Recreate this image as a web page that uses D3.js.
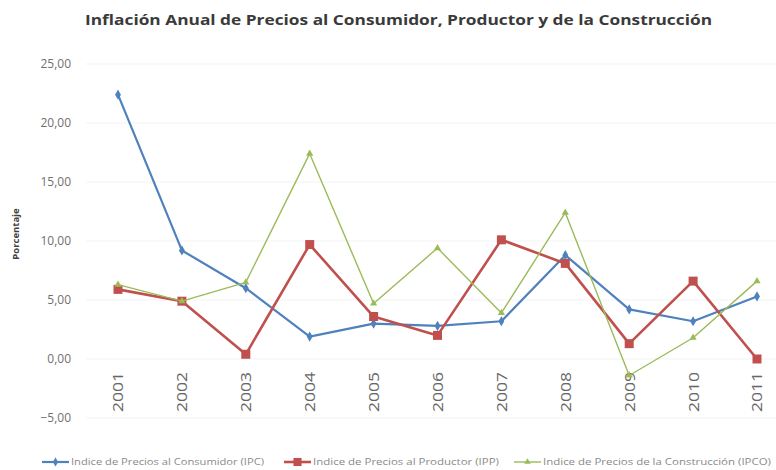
<!DOCTYPE html>
<html>
<head>
<meta charset="utf-8">
<script src="https://cdn.jsdelivr.net/npm/d3@7"></script>
<style>
  html, body { margin: 0; padding: 0; background: #fff; }
  svg { display: block; }
</style>
</head>
<body>
<svg id="chart" width="776" height="470"></svg>
<script>
// Annual inflation rates (%) by year
const years = ["2001","2002","2003","2004","2005","2006","2007","2008","2009","2010","2011"];
const ipc  = [22.4, 9.2, 6.0, 1.9, 3.0, 2.8, 3.2, 8.8, 4.2, 3.2, 5.3];
const ipp  = [5.9, 4.9, 0.4, 9.7, 3.6, 2.0, 10.1, 8.1, 1.3, 6.6, 0.0];
const ipco = [6.3, 4.9, 6.5, 17.4, 4.7, 9.4, 3.9, 12.4, -1.4, 1.8, 6.6];
const yTicks = [-5, 0, 5, 10, 15, 20, 25];

const seriesNames = [
  "Indice de Precios al Consumidor (IPC)",
  "Indice de Precios al Productor (IPP)",
  "Indice de Precios de la Construcción (IPCO)"
];

const series = [
  { name: seriesNames[0], values: ipc,  color: "#4F81BD", width: 2.2, marker: "diamond", size: 5 },
  { name: seriesNames[1], values: ipp,  color: "#C0504D", width: 2.6, marker: "square",  size: 9 },
  { name: seriesNames[2], values: ipco, color: "#9BBB59", width: 1.4, marker: "triangle", size: 5 }
];

const svg = d3.select("#chart");
const font = "'Open Sans', 'Noto Sans', sans-serif";

const x = d3.scalePoint().domain(years).range([118, 757]);
const y = d3.scaleLinear().domain([-5, 25]).range([418, 64]);

// Title
svg.append("text")
  .attr("x", 85).attr("y", 25)
  .attr("textLength", 627)
  .attr("lengthAdjust", "spacingAndGlyphs")
  .attr("font-family", font)
  .attr("font-weight", "bold")
  .attr("font-size", 15)
  .attr("fill", "#3a3a3a")
  .text("Inflación Anual  de Precios al Consumidor,  Productor y de la Construcción");

// Horizontal gridlines
svg.append("g")
  .selectAll("line")
  .data(yTicks)
  .join("line")
  .attr("x1", 86).attr("x2", 776)
  .attr("y1", d => y(d)).attr("y2", d => y(d))
  .attr("stroke", "#f3f3f3")
  .attr("stroke-width", 1);

// Y axis labels
const yAxis = d3.axisLeft(y)
  .tickValues(yTicks)
  .tickSize(0)
  .tickPadding(0)
  .tickFormat(d => d3.format(".2f")(d).replace(".", ","));
const yg = svg.append("g").attr("transform", "translate(71,0)").call(yAxis);
yg.select(".domain").remove();
yg.selectAll("text")
  .attr("font-family", font)
  .attr("font-size", 12)
  .attr("fill", "#707070");

// Y axis title
svg.append("text")
  .attr("transform", "translate(19,234) rotate(-90)")
  .attr("text-anchor", "middle")
  .attr("font-family", font)
  .attr("font-weight", "bold")
  .attr("font-size", 9.5)
  .attr("fill", "#404040")
  .text("Porcentaje");

// X axis labels (rotated)
const xAxis = d3.axisBottom(x).tickSize(0).tickPadding(0);
const xg = svg.append("g").call(xAxis);
xg.select(".domain").remove();
xg.selectAll("text")
  .attr("font-family", font)
  .attr("font-size", 14)
  .attr("fill", "#666666")
  .attr("text-anchor", "end")
  .attr("dy", "0.35em")
  .attr("textLength", 40)
  .attr("lengthAdjust", "spacingAndGlyphs")
  .attr("transform", "rotate(-90)")
  .attr("x", -372)
  .attr("y", 0);

// Marker shapes
function markerPath(type, size) {
  if (type === "diamond") return d3.symbol(d3.symbolDiamond, size * size * 1.2)();
  if (type === "square") return d3.symbol(d3.symbolSquare, size * size)();
  return d3.symbol(d3.symbolTriangle, size * size * 0.9)();
}

const line = d3.line().x((d, i) => x(years[i])).y(d => y(d));

series.forEach(s => {
  const g = svg.append("g");
  g.append("path")
    .datum(s.values)
    .attr("d", line)
    .attr("fill", "none")
    .attr("stroke", s.color)
    .attr("stroke-width", s.width)
    .attr("stroke-linejoin", "round");
  g.selectAll("path.m")
    .data(s.values)
    .join("path")
    .attr("class", "m")
    .attr("d", markerPath(s.marker, s.size))
    .attr("transform", (d, i) => `translate(${x(years[i])},${y(d)})`)
    .attr("fill", s.color);
});

// Legend
const legendX = [42, 284, 514];
const legendTextLen = [193, 186, 228];
const legend = svg.append("g");
series.forEach((s, i) => {
  const g = legend.append("g").attr("transform", `translate(${legendX[i]},462)`);
  g.append("line")
    .attr("x1", 0).attr("x2", 27)
    .attr("stroke", s.color).attr("stroke-width", s.width);
  g.append("path")
    .attr("d", markerPath(s.marker, s.size * 0.9))
    .attr("transform", "translate(13.5,0)")
    .attr("fill", s.color);
  g.append("text")
    .attr("x", 29).attr("dy", "0.35em")
    .attr("textLength", legendTextLen[i])
    .attr("lengthAdjust", "spacingAndGlyphs")
    .attr("font-family", font)
    .attr("font-size", 8.5)
    .attr("fill", "#8a8a8a")
    .text(s.name);
});
</script>
</body>
</html>
